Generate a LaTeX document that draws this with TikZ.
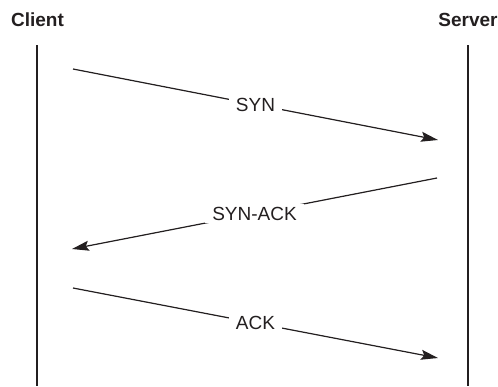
\documentclass[tikz,border=0pt]{standalone}
\usepackage{fontspec}
\setmainfont{Liberation Sans}
\usetikzlibrary{arrows.meta}
\definecolor{InkTCP}{HTML}{231F20}

\tikzset{
  lifeline/.style={line width=1.2pt, draw=InkTCP},
  msg/.style={line width=1.2pt, draw=InkTCP, fill=InkTCP,
    -{Stealth[length=17pt, width=10pt, inset=3pt]}},
  msglabel/.style={fill=white, text=InkTCP, inner xsep=7pt, inner ysep=3pt,
    font=\fontsize{19}{22}\selectfont},
  party/.style={text=InkTCP, font=\fontsize{19}{22}\selectfont\bfseries}
}

\begin{document}
\begin{tikzpicture}[x=1pt, y=-1pt]
  \useasboundingbox (0,0) rectangle (498,386);

  % end points
\begin{scope}
    \node[party] (client) at (37.5,20) {Client};
    \node[party] (server) at (468,20) {Server};
    \coordinate (clientTop) at (37,45);
    \coordinate (clientBot) at (37,386);
    \coordinate (serverTop) at (468,45);
    \coordinate (serverBot) at (468,386);
    \draw[lifeline] (clientTop) -- (clientBot);
    \draw[lifeline] (serverTop) -- (serverBot);
\end{scope}

  % handshake
\begin{scope}
    \coordinate (synFrom) at (73,69);
    \coordinate (synTo) at (438,140);
    \coordinate (synackFrom) at (437,178);
    \coordinate (synackTo) at (72,249);
    \coordinate (ackFrom) at (73,288);
    \coordinate (ackTo) at (438,358);
    \draw[msg] (synFrom) -- node[msglabel] (syn) {SYN} (synTo);
    \draw[msg] (synackFrom) -- node[msglabel] (synack) {SYN-ACK} (synackTo);
    \draw[msg] (ackFrom) -- node[msglabel] (ack) {ACK} (ackTo);
\end{scope}
\end{tikzpicture}
\end{document}
